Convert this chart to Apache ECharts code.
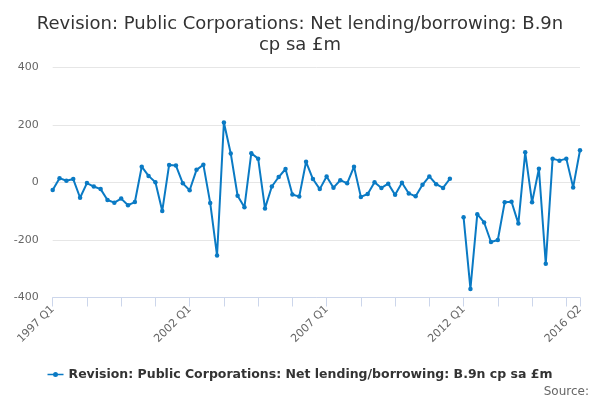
<!DOCTYPE html>
<html><head><meta charset="utf-8">
<script src="https://cdn.jsdelivr.net/npm/echarts@6/dist/echarts.min.js"></script>
<style>html,body{margin:0;padding:0;background:#fff}#c{width:600px;height:400px}</style>
</head><body><div id="c"></div>
<script>
const titleText = 'Revision: Public Corporations: Net lending/borrowing: B.9n\ncp sa £m';
const seriesName = 'Revision: Public Corporations: Net lending/borrowing: B.9n cp sa £m';
const startYear = 1997, endYear = 2016, endQuarter = 2;
const categories = [];
for (let y = startYear; y <= endYear; y++) for (let q = 1; q <= 4; q++) { if (y === endYear && q > endQuarter) break; categories.push(y + ' Q' + q); }
const values = [
 -26, 15, 6, 12, -53, -2, -14, -23, -61, -70,
 -56, -79, -68, 55, 23, 1, -99, 61, 59, -3,
 -27, 44, 62, -71, -254, 209, 101, -46, -86, 102,
 83, -90, -14, 19, 47, -42, -49, 72, 12, -23,
 21, -18, 8, -3, 55, -50, -40, 1, -19, -4,
 -43, -1, -38, -48, -8, 21, -6, -19, 13, null,
 -121, -370, -110, -139, -207, -200, -69, -67, -143, 105,
 -69, 48, -283, 83, 76, 83, -17, 112
];
const yTicks = { min: -400, max: 400, interval: 200 };
const font = 'DejaVu Sans';
const last = categories.length - 1;
const chart = echarts.init(document.getElementById('c'), null, { renderer: 'canvas' });
chart.setOption({
  animation: false,
  backgroundColor: '#fff',
  title: { text: titleText, left: 'center', top: 9, textStyle: { fontFamily: font, fontSize: 18, fontWeight: 'normal', color: '#333', lineHeight: 21 } },
  grid: { left: 52.7, right: 20, top: 67.5, bottom: 102.5, containLabel: false },
  legend: { bottom: 14, left: 'center', itemWidth: 16, itemHeight: 8, icon: 'path://M0,3.3H16V4.7H0Z M8,1.5A2.5,2.5 0 1,1 8,6.5A2.5,2.5 0 1,1 8,1.5Z',
    textStyle: { fontFamily: font, fontSize: 12.5, fontWeight: 'bold', color: '#333' }, data: [seriesName] },
  graphic: [{ type: 'text', right: 11, bottom: 2, style: { text: 'Source:', fontFamily: font, fontSize: 12, fill: '#666' } }],
  xAxis: { type: 'category', data: categories, boundaryGap: false,
    axisLine: { onZero: false, lineStyle: { color: '#ccd6eb' } },
    axisTick: { length: 9, lineStyle: { color: '#ccd6eb' }, interval: (i) => i % 5 === 0 || i === last },
    axisLabel: { interval: (i) => i % 20 === 0 || i === last, rotate: 45, fontFamily: font, fontSize: 11, color: '#666', margin: 10 },
    splitLine: { show: false } },
  yAxis: { type: 'value', min: yTicks.min, max: yTicks.max, interval: yTicks.interval,
    axisLine: { show: false }, axisTick: { show: false },
    axisLabel: { fontFamily: font, fontSize: 11, color: '#666', margin: 14 },
    splitLine: { lineStyle: { color: '#e6e6e6' } } },
  series: [{ name: seriesName, type: 'line', data: values, connectNulls: false,
    symbol: 'circle', symbolSize: 4.5, showAllSymbol: true,
    itemStyle: { color: '#0a7ac4' }, lineStyle: { color: '#0a7ac4', width: 2 } }]
});
</script></body></html>
